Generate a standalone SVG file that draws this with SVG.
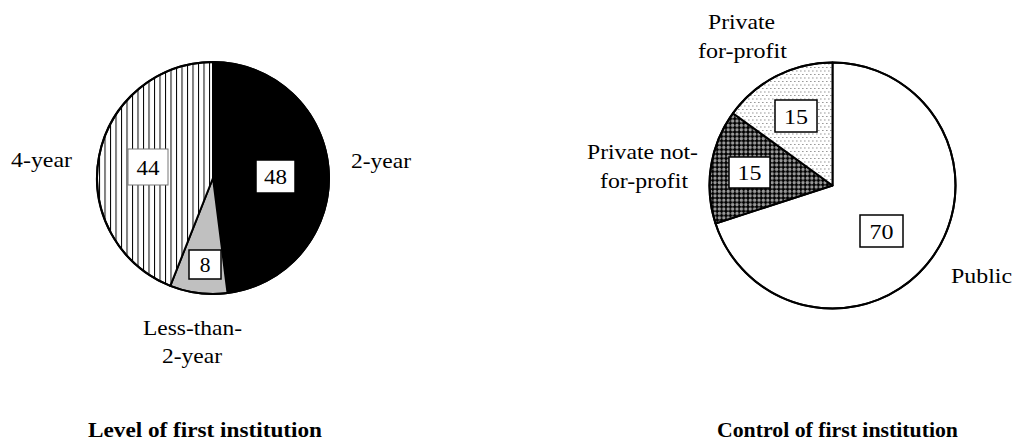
<svg xmlns="http://www.w3.org/2000/svg" width="1015" height="443" viewBox="0 0 1015 443">
  <style>
    text { font-family: "Liberation Serif", "Times New Roman", serif; font-size: 21.5px; fill: #000; }
    .num { text-anchor: middle; }
    .title { font-weight: bold; font-size: 20px; text-anchor: middle; }
    .slice { stroke: #000; stroke-width: 2; stroke-linejoin: round; }
    .box { fill: #fff; stroke: #000; stroke-width: 1.5; }
  </style>
  <defs>
    <pattern id="vlines" patternUnits="userSpaceOnUse" width="5.5" height="10">
      <rect width="5.5" height="10" fill="#fff"/>
      <rect x="0" y="0" width="1" height="10" fill="#000"/>
    </pattern>
    <pattern id="checker" patternUnits="userSpaceOnUse" width="4.4" height="4.4">
      <rect width="4.4" height="4.4" fill="#000"/>
      <circle cx="2.2" cy="2.2" r="1.7" fill="#999999"/>
    </pattern>
    <pattern id="dots" patternUnits="userSpaceOnUse" width="4" height="7">
      <rect width="4" height="7" fill="#fff"/>
      <rect x="0" y="0.5" width="1.6" height="1" fill="#9a9a9a"/>
      <rect x="2" y="4" width="1.6" height="1" fill="#9a9a9a"/>
    </pattern>
  </defs>

  <g id="level-pie">
    <g id="slice-2year">
      <path class="slice" fill="#000" d="M213,178 L213,62 A116,116 0 0 1 227.54,293.08 Z"/>
    </g>
    <g id="slice-less2year">
      <path class="slice" fill="#c0c0c0" d="M213,178 L227.54,293.08 A116,116 0 0 1 170.30,285.85 Z"/>
    </g>
    <g id="slice-4year">
      <path class="slice" fill="url(#vlines)" d="M213,178 L170.30,285.85 A116,116 0 0 1 213,62 Z"/>
    </g>
    <circle cx="213" cy="178" r="116" fill="none" stroke="#000" stroke-width="2"/>
    <g id="val-48">
      <rect class="box" x="256" y="160" width="39" height="33"/>
      <text class="num" x="275.5" y="184" textLength="23" lengthAdjust="spacingAndGlyphs">48</text>
    </g>
    <g id="val-44">
      <rect x="128" y="149" width="40" height="36" fill="#fff" stroke="#777" stroke-width="1"/>
      <text class="num" x="148" y="175" textLength="23" lengthAdjust="spacingAndGlyphs">44</text>
    </g>
    <g id="val-8">
      <rect class="box" x="189" y="250" width="32" height="29"/>
      <text class="num" x="205" y="272">8</text>
    </g>
    <g id="label-4year">
      <text x="11" y="167" textLength="61" lengthAdjust="spacingAndGlyphs">4-year</text>
    </g>
    <g id="label-2year">
      <text x="351" y="168" textLength="60" lengthAdjust="spacingAndGlyphs">2-year</text>
    </g>
    <g id="label-less2year">
      <text x="143" y="335" textLength="99" lengthAdjust="spacingAndGlyphs">Less-than-</text>
      <text x="162" y="363" textLength="60" lengthAdjust="spacingAndGlyphs">2-year</text>
    </g>
    <g id="title-level">
      <text class="title" x="205" y="437" textLength="234" lengthAdjust="spacingAndGlyphs">Level of first institution</text>
    </g>
  </g>

  <g id="control-pie">
    <g id="slice-public">
      <path class="slice" fill="#fff" d="M832.5,185.5 L832.5,62.5 A123,123 0 1 1 715.52,223.51 Z"/>
    </g>
    <g id="slice-private-nfp">
      <path class="slice" fill="url(#checker)" d="M832.5,185.5 L715.52,223.51 A123,123 0 0 1 732.99,113.20 Z"/>
    </g>
    <g id="slice-private-fp">
      <path class="slice" fill="url(#dots)" d="M832.5,185.5 L732.99,113.20 A123,123 0 0 1 832.5,62.5 Z"/>
    </g>
    <circle cx="832.5" cy="185.5" r="123" fill="none" stroke="#000" stroke-width="2"/>
    <g id="val-15-fp">
      <rect class="box" x="775" y="100" width="42" height="32"/>
      <text class="num" x="796" y="124" textLength="24" lengthAdjust="spacingAndGlyphs">15</text>
    </g>
    <g id="val-15-nfp">
      <rect class="box" x="729" y="157" width="41" height="31"/>
      <text class="num" x="749.5" y="180" textLength="24" lengthAdjust="spacingAndGlyphs">15</text>
    </g>
    <g id="val-70">
      <rect class="box" x="860" y="215" width="43" height="32"/>
      <text class="num" x="881.5" y="239" textLength="24" lengthAdjust="spacingAndGlyphs">70</text>
    </g>
    <g id="label-private-fp">
      <text x="708" y="29" textLength="67" lengthAdjust="spacingAndGlyphs">Private</text>
      <text x="698" y="58" textLength="89" lengthAdjust="spacingAndGlyphs">for-profit</text>
    </g>
    <g id="label-private-nfp">
      <text x="587" y="159" textLength="111" lengthAdjust="spacingAndGlyphs">Private not-</text>
      <text x="600" y="188" textLength="88" lengthAdjust="spacingAndGlyphs">for-profit</text>
    </g>
    <g id="label-public">
      <text x="951" y="283" textLength="61" lengthAdjust="spacingAndGlyphs">Public</text>
    </g>
    <g id="title-control">
      <text class="title" x="837.5" y="437" textLength="241" lengthAdjust="spacingAndGlyphs">Control of first institution</text>
    </g>
  </g>
  <g id="connectors"/>
</svg>
